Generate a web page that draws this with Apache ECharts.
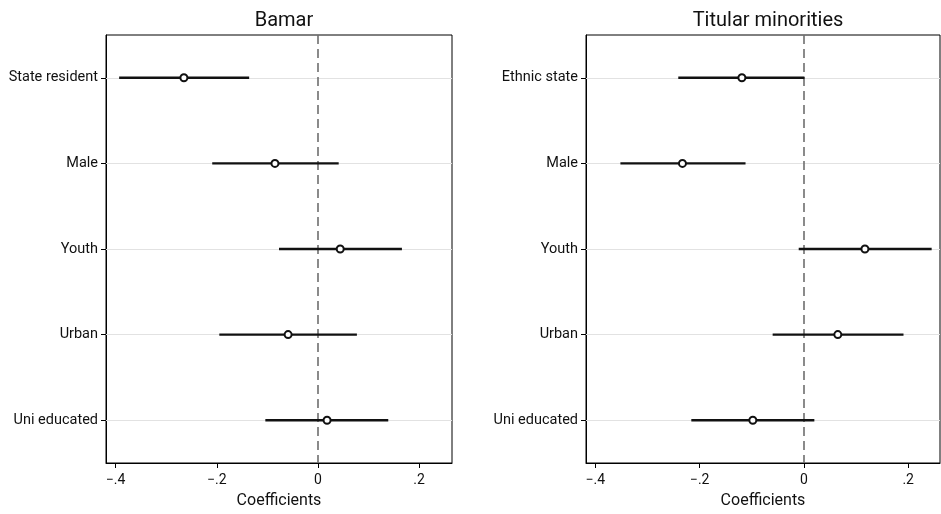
<!DOCTYPE html>
<html>
<head>
<meta charset="utf-8">
<script src="https://cdn.jsdelivr.net/npm/echarts@6/dist/echarts.min.js"></script>
<style>html,body{margin:0;padding:0;background:#fff}#c{width:941px;height:514px}</style>
</head>
<body>
<div id="c"></div>
<script>
const categoriesLeft = ['State resident', 'Male', 'Youth', 'Urban', 'Uni educated'];
const categoriesRight = ['Ethnic state', 'Male', 'Youth', 'Urban', 'Uni educated'];
const bamarCoef = [-0.265, -0.085, 0.044, -0.059, 0.018];
const bamarLow  = [-0.393, -0.209, -0.077, -0.195, -0.104];
const bamarHigh = [-0.136, 0.041, 0.166, 0.077, 0.139];
const titularCoef = [-0.119, -0.233, 0.117, 0.065, -0.098];
const titularLow  = [-0.241, -0.352, -0.010, -0.060, -0.216];
const titularHigh = [0.001, -0.112, 0.245, 0.191, 0.020];
const xTicks = [-0.4, -0.2, 0, 0.2];
const panelTitles = ['Bamar', 'Titular minorities'];
const xAxisTitle = 'Coefficients';

const FONT = 'Roboto';
const fmt = v => (Math.abs(v) < 1e-9 ? '0' : String(+v.toFixed(2)).replace('0.', '.').replace('-', '\u2212'));

function xAxisDef(gi, min, max) {
  return {
    type: 'value', gridIndex: gi, min: min, max: max,
    name: xAxisTitle, nameLocation: 'middle', nameGap: 30,
    nameTextStyle: { fontFamily: FONT, fontSize: 16, color: '#111' },
    axisLine: { show: true, onZero: false, lineStyle: { color: '#000', width: 1 } },
    axisTick: { show: true, length: 5, customValues: xTicks, lineStyle: { color: '#000' } },
    axisLabel: { customValues: xTicks, formatter: fmt, margin: 10, fontFamily: FONT, fontSize: 14, color: '#111' },
    splitLine: { show: false }
  };
}
function yAxisDef(gi, cats) {
  return {
    type: 'category', gridIndex: gi, data: cats, inverse: true,
    axisLine: { show: true, onZero: false, lineStyle: { color: '#000', width: 1 } },
    axisTick: { show: true, length: 5, alignWithLabel: true, lineStyle: { color: '#000' } },
    axisLabel: { margin: 8, fontFamily: FONT, fontSize: 14.5, color: '#111' },
    splitLine: { show: false }
  };
}
function seriesFor(gi, cats, coef, low, high) {
  const barData = cats.map((c, i) => [low[i], high[i], i]);
  const gridLines = cats.map(c => ({ yAxis: c, lineStyle: { color: '#e2e2e2', type: 'solid', width: 1 } }));
  return [
    {
      type: 'custom', xAxisIndex: gi, yAxisIndex: gi, z: 3,
      data: barData,
      dimensions: ['lo', 'hi', 'idx'],
      encode: { x: [0, 1], y: 2 },
      renderItem: function (params, api) {
        const a = api.coord([api.value(0), api.value(2)]);
        const b = api.coord([api.value(1), api.value(2)]);
        return { type: 'line', shape: { x1: a[0], y1: a[1], x2: b[0], y2: b[1] },
                 style: { stroke: '#111', lineWidth: 2.4 } };
      }
    },
    {
      type: 'scatter', xAxisIndex: gi, yAxisIndex: gi, z: 5,
      data: cats.map((c, i) => [coef[i], i]),
      symbol: 'circle', symbolSize: 7,
      itemStyle: { color: '#fff', borderColor: '#111', borderWidth: 2, opacity: 1 },
      markLine: {
        silent: true, symbol: 'none', z: 1,
        label: { show: false },
        data: gridLines.concat([{ xAxis: 0, lineStyle: { color: '#6e6e6e', type: [9, 5], width: 1.6 } }])
      }
    }
  ];
}

const chart = echarts.init(document.getElementById('c'), null, { renderer: 'canvas' });
chart.setOption({
  animation: false,
  backgroundColor: '#fff',
  title: [
    { text: panelTitles[0], left: 279, top: 6, textAlign: 'center',
      textStyle: { fontFamily: FONT, fontSize: 20, fontWeight: 'normal', color: '#111' } },
    { text: panelTitles[1], left: 763, top: 6, textAlign: 'center',
      textStyle: { fontFamily: FONT, fontSize: 20, fontWeight: 'normal', color: '#111' } }
  ],
  grid: [
    { left: 106, width: 346, top: 35, height: 432, show: true, borderColor: '#000', borderWidth: 1, backgroundColor: '#fff' },
    { left: 586, width: 354, top: 35, height: 432, show: true, borderColor: '#000', borderWidth: 1, backgroundColor: '#fff' }
  ],
  xAxis: [xAxisDef(0, -0.419, 0.265), xAxisDef(1, -0.418, 0.261)],
  yAxis: [yAxisDef(0, categoriesLeft), yAxisDef(1, categoriesRight)],
  series: [].concat(
    seriesFor(0, categoriesLeft, bamarCoef, bamarLow, bamarHigh),
    seriesFor(1, categoriesRight, titularCoef, titularLow, titularHigh)
  )
});
</script>
</body>
</html>
